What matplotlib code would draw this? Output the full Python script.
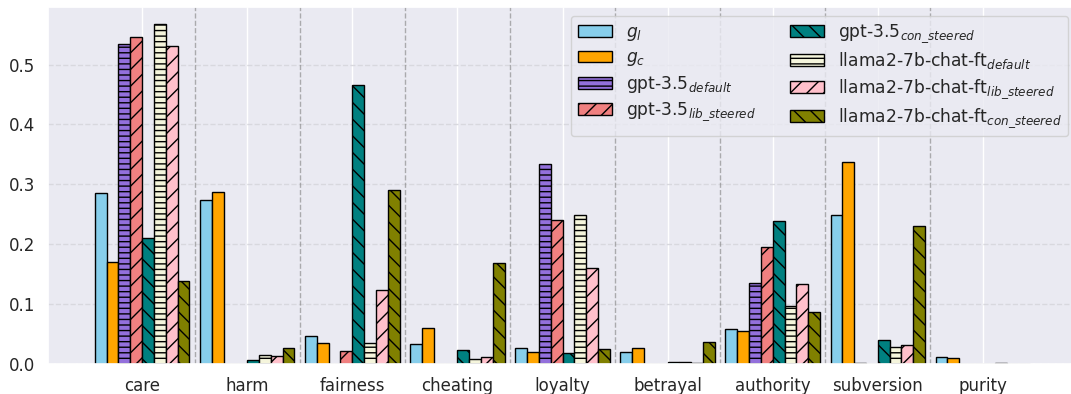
import numpy as np
import matplotlib
matplotlib.use('Agg')
import matplotlib.pyplot as plt
import seaborn as sns

sns.set_theme(style='darkgrid')
plt.rcParams['font.family'] = ['DejaVu Sans']

categories = ['care', 'harm', 'fairness', 'cheating', 'loyalty',
              'betrayal', 'authority', 'subversion', 'purity']

g_l = [0.285, 0.273, 0.047, 0.033, 0.026, 0.0195, 0.058, 0.248, 0.012]
g_c = [0.170, 0.287, 0.0345, 0.060, 0.020, 0.026, 0.055, 0.338, 0.0105]
gpt_default = [0.535, 0.0, 0.0, 0.0, 0.334, 0.0, 0.1355, 0.001, 0.0]
gpt_lib = [0.546, 0.0, 0.022, 0.0, 0.241, 0.0, 0.1945, 0.0, 0.0005]
gpt_con = [0.211, 0.007, 0.465, 0.023, 0.018, 0.003, 0.238, 0.0395, 0.0]
llama_default = [0.568, 0.0145, 0.0345, 0.009, 0.248, 0.0033, 0.097, 0.028, 0.001]
llama_lib = [0.5305, 0.013, 0.124, 0.011, 0.161, 0.001, 0.133, 0.031, 0.0]
llama_con = [0.138, 0.027, 0.291, 0.168, 0.0245, 0.0367, 0.086, 0.231, 0.0005]

series = [g_l, g_c, gpt_default, gpt_lib, gpt_con,
          llama_default, llama_lib, llama_con]
labels = ['$g_l$', '$g_c$',
          'gpt-3.5$_{default}$', r'gpt-3.5$_{lib\_steered}$',
          r'gpt-3.5$_{con\_steered}$',
          'llama2-7b-chat-ft$_{default}$',
          r'llama2-7b-chat-ft$_{lib\_steered}$',
          r'llama2-7b-chat-ft$_{con\_steered}$']
colors = ['skyblue', 'orange', 'mediumpurple', 'lightcoral', 'teal',
          'beige', 'pink', 'olive']
hatches = ['', '', '---', '//', '\\\\', '---', '//', '\\\\']

fig = plt.figure(figsize=(10.71, 3.94), dpi=100)
ax = fig.add_axes([48 / 1071, 30 / 394, 1029 / 1071, 357 / 394])

x = np.arange(len(categories))
width = 0.9 / len(series)
for i, (vals, lab, col, h) in enumerate(zip(series, labels, colors, hatches)):
    ax.bar(x - 0.45 + width * (i + 0.5), vals, width, label=lab, color=col,
           hatch=h, edgecolor='black', linewidth=1)

# separators between the categories
for i in range(len(categories) - 1):
    ax.axvline(i + 0.5, color='gray', linestyle='--', alpha=0.6, linewidth=1)

ax.yaxis.grid(True, linestyle='--', color='#d8d8de')
ax.set_xticks(x)
ax.set_xticklabels(categories, fontsize=12)
ax.tick_params(axis='y', labelsize=12)
ax.set_xlim(-0.895, 8.895)
ax.set_ylim(0, 0.596)
ax.legend(loc='upper right', ncol=2, fontsize=12.3, handlelength=2.0,
          columnspacing=2.0, labelspacing=0.33)

fig.savefig('out.png')
